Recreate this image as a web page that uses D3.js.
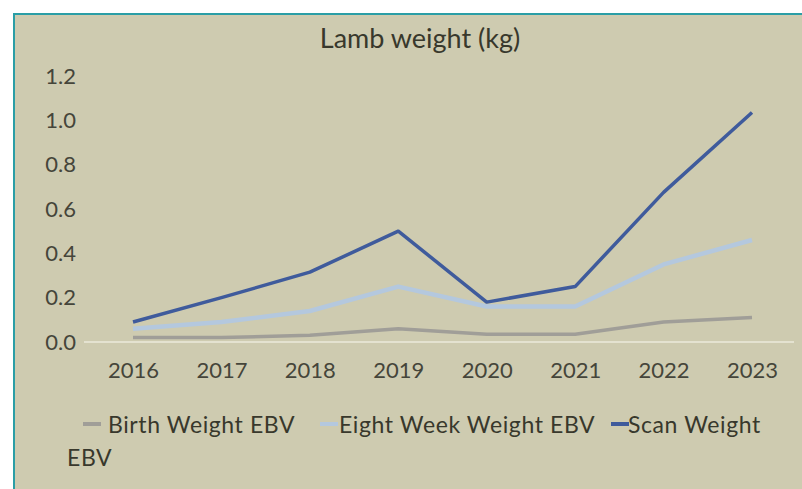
<!DOCTYPE html>
<html>
<head>
<meta charset="utf-8">
<script src="https://cdn.jsdelivr.net/npm/d3@7"></script>
<style>
body { margin: 0; background: #fff; }
text { font-family: Lato, "Open Sans", sans-serif; }
</style>
</head>
<body>
<div class="chart"></div>
<script>
var width = 802;
var height = 489;

// data
var years = ["2016", "2017", "2018", "2019", "2020", "2021", "2022", "2023"];
var birthWeight = [0.02, 0.02, 0.03, 0.06, 0.035, 0.035, 0.09, 0.11];
var eightWeek = [0.06, 0.09, 0.14, 0.25, 0.16, 0.16, 0.35, 0.46];
var scanWeight = [0.09, 0.20, 0.315, 0.50, 0.18, 0.25, 0.675, 1.035];
var yTicks = [0, 0.2, 0.4, 0.6, 0.8, 1.0, 1.2];
var seriesNames = ["Birth Weight EBV", "Eight Week Weight EBV", "Scan Weight EBV"];
var seriesColors = ["#a09e98", "#b4c8de", "#3f5b9c"];

var svg = d3.select(".chart").append("svg")
  .attr("width", width)
  .attr("height", height)
  .style("display", "block");

// panel with teal frame
svg.append("rect")
  .attr("x", 14).attr("y", 14)
  .attr("width", width + 10).attr("height", height + 10)
  .attr("fill", "#cecbb0")
  .attr("stroke", "#2a9ea6")
  .attr("stroke-width", 2);

svg.append("text")
  .attr("x", 420).attr("y", 48)
  .attr("text-anchor", "middle")
  .attr("font-size", "27px")
  .attr("fill", "#38382c")
  .text("Lamb weight (kg)");

var x = d3.scalePoint()
  .domain(years)
  .range([133, 752]);

var y = d3.scaleLinear()
  .domain([0, 1.2])
  .range([342, 76]);

// y axis labels
var yAxis = svg.append("g")
  .attr("transform", "translate(76,0)")
  .call(d3.axisLeft(y).tickValues(yTicks).tickSize(0).tickPadding(0)
    .tickFormat(d3.format(".1f")));
yAxis.select(".domain").remove();
yAxis.selectAll("text")
  .attr("font-size", "22px")
  .attr("fill", "#45453a")
  .style("font-family", "Lato, sans-serif");

// baseline
svg.append("line")
  .attr("x1", 84).attr("x2", 794)
  .attr("y1", y(0)).attr("y2", y(0))
  .attr("stroke", "#e4e2d0")
  .attr("stroke-width", 2);

// x axis labels
var xAxis = svg.append("g")
  .attr("transform", "translate(0," + y(0) + ")")
  .call(d3.axisBottom(x).tickSize(0).tickPadding(20));
xAxis.select(".domain").remove();
xAxis.selectAll("text")
  .attr("font-size", "22px")
  .attr("fill", "#45453a")
  .style("font-family", "Lato, sans-serif");

var line = d3.line()
  .x(function(d, i) { return x(years[i]); })
  .y(function(d) { return y(d); });

var allSeries = [birthWeight, eightWeek, scanWeight];
var widths = [3.5, 4.5, 3.5];

svg.append("g")
  .selectAll("path")
  .data(allSeries)
  .enter().append("path")
  .attr("d", line)
  .attr("fill", "none")
  .attr("stroke", function(d, i) { return seriesColors[i]; })
  .attr("stroke-width", function(d, i) { return widths[i]; })
  .attr("stroke-linejoin", "round");

// legend
var swatchX = [83, 320, 611];
var labelX = [108, 339, 628];
var legend = svg.append("g").attr("class", "legend");
seriesNames.forEach(function(name, i) {
  legend.append("line")
    .attr("x1", swatchX[i]).attr("x2", swatchX[i] + 18)
    .attr("y1", 424).attr("y2", 424)
    .attr("stroke", seriesColors[i])
    .attr("stroke-width", 4);
  var t = legend.append("text")
    .attr("x", labelX[i]).attr("y", 433)
    .attr("font-size", "23px")
    .attr("letter-spacing", "0.6px")
    .attr("fill", "#38382c");
  if (i === 2) {
    t.append("tspan").text("Scan Weight");
    t.append("tspan").attr("x", 67).attr("y", 466).text("EBV");
  } else {
    t.text(name);
  }
});
</script>
</body>
</html>
